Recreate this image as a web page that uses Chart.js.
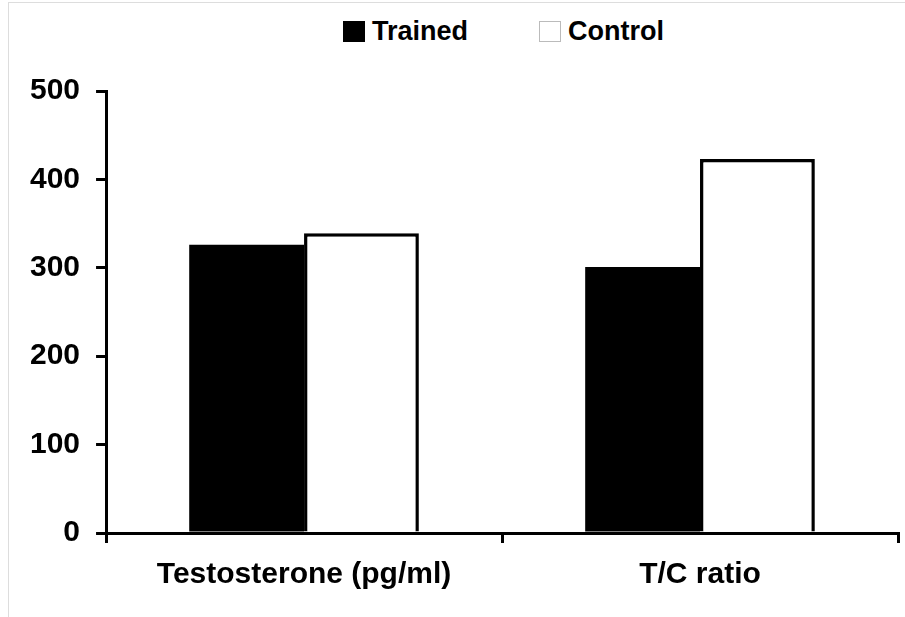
<!DOCTYPE html>
<html>
<head>
<meta charset="utf-8">
<script src="https://cdn.jsdelivr.net/npm/chart.js@4"></script>
<style>
    html, body { margin: 0; padding: 0; background: #fff; }
    #wrap { position: relative; width: 905px; height: 617px; }
    #frame { position: absolute; left: 8px; top: 2px; right: 0; bottom: 0; border-left: 1px solid #ddd; border-top: 1px solid #ddd; }
    #legend { position: absolute; top: 16px; left: 343px; display: flex; align-items: center;
              font-family: "Liberation Sans", Arial, sans-serif; font-weight: bold; font-size: 27px; color: #000; }
    .item { display: flex; align-items: center; margin-right: 71px; }
    .box { width: 22px; height: 21px; box-sizing: border-box; margin-right: 7px; }
    canvas { position: absolute; left: 0; top: 0; }
</style>
</head>
<body>
<div id="wrap">
    <div id="frame"></div>
    <div id="legend"></div>
    <canvas id="barChart" width="905" height="617"></canvas>
</div>
<script>
const categories = ['Testosterone (pg/ml)', 'T/C ratio'];
const seriesNames = ['Trained', 'Control'];
const trainedValues = [326, 301];
const controlValues = [339, 423];
const yTicks = [0, 100, 200, 300, 400, 500];

// 凡例はHTMLで作る
const legendStyles = [
    { background: '#000', border: '1px solid #000' },
    { background: '#fff', border: '1px solid #bbb' }
];
const legend = document.getElementById('legend');
seriesNames.forEach((name, i) => {
    const item = document.createElement('div');
    item.className = 'item';
    const box = document.createElement('span');
    box.className = 'box';
    box.style.background = legendStyles[i].background;
    box.style.border = legendStyles[i].border;
    const label = document.createElement('span');
    label.textContent = name;
    item.appendChild(box);
    item.appendChild(label);
    legend.appendChild(item);
});

const tickFont = { family: '"Liberation Sans", Arial, sans-serif', weight: 'bold', size: 30 };

new Chart(document.getElementById('barChart').getContext('2d'), {
    type: 'bar',
    data: {
        labels: categories,
        datasets: [
            {
                label: seriesNames[0],
                data: trainedValues,
                backgroundColor: '#000',
                borderColor: '#000',
                borderWidth: 0
            },
            {
                label: seriesNames[1],
                data: controlValues,
                backgroundColor: '#fff',
                borderColor: '#000',
                borderWidth: 3.5
            }
        ]
    },
    options: {
        responsive: false,
        animation: false,
        layout: { padding: { left: 14, right: 7, top: 91, bottom: 10 } },
        categoryPercentage: 0.58,
        barPercentage: 1,
        plugins: {
            legend: { display: false },
            tooltip: { enabled: false }
        },
        scales: {
            x: {
                grid: { offset: true, drawOnChartArea: false, color: '#000', lineWidth: 3, tickLength: 10 },
                border: { color: '#000', width: 3 },
                ticks: { color: '#000', font: tickFont, padding: 14, maxRotation: 0 }
            },
            y: {
                min: 0,
                max: 500,
                afterBuildTicks: axis => { axis.ticks = yTicks.map(v => ({ value: v })); },
                grid: { drawOnChartArea: false, color: '#000', lineWidth: 3, tickLength: 10 },
                border: { color: '#000', width: 3 },
                ticks: { color: '#000', font: tickFont, padding: 16 }
            }
        }
    }
});
</script>
</body>
</html>
